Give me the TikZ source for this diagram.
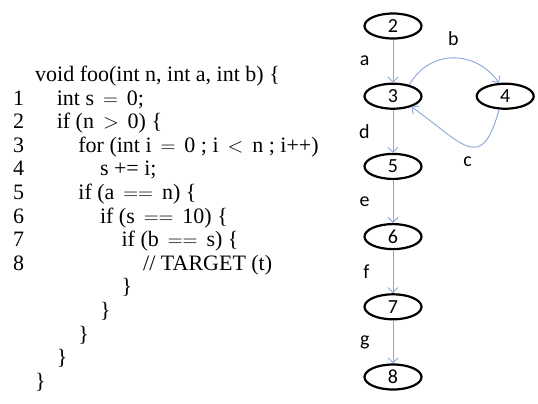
\documentclass[tikz,border=0pt]{standalone}
\usepackage{fontspec}
\setmainfont{Liberation Serif}
\newfontfamily\graphfont{Carlito}
\usepackage{tikz}
\usetikzlibrary{arrows.meta,positioning,shapes.geometric}
\definecolor{EdgeBlue}{HTML}{8AA6D6}
\newcommand\rel[1]{$\,#1\,$}

\begin{document}
\begin{tikzpicture}[x=1bp,y=1bp,
        code/.style={anchor=base west,inner sep=0pt,
                     font=\fontsize{22bp}{24bp}\selectfont},
        lno/.style={code},
        state/.style={ellipse,draw,line width=2.2bp,minimum width=57bp,
                      minimum height=25bp,inner sep=0pt,
                      font=\graphfont\fontsize{20bp}{24bp}\selectfont},
        flow/.style={-{Straight Barb[length=5bp,width=10bp]},EdgeBlue,
                     line width=0.9bp},
        elabel/.style={inner sep=0pt,text=black,
                       font=\graphfont\fontsize{20bp}{24bp}\selectfont},
        node distance=43bp]
        \useasboundingbox (0,0) rectangle (538,-403);
        % source listing
        \foreach \k in {1,...,8}
          \node[lno] (n\k) at (13,{-81.5-23.6*\k}) {\k};
        \node[code] (c0) at (35,-81.5) {void foo(int n, int a, int b) \{};
        \node[code] (c1) at (56.6,-105.1) {int s \rel{=} 0;};
        \node[code] (c2) at (56.6,-128.7) {if (n \rel{>} 0) \{};
        \node[code] (c3) at (78.2,-152.3) {for (int i \rel{=} 0 ; i \rel{<} n ; i++)};
        \node[code] (c4) at (99.8,-175.9) {s += i;};
        \node[code] (c5) at (78.2,-199.5) {if (a \rel{==} n) \{};
        \node[code] (c6) at (99.8,-223.1) {if (s \rel{==} 10) \{};
        \node[code] (c7) at (121.4,-246.7) {if (b \rel{==} s) \{};
        \node[code] (c8) at (143,-270.3) {// TARGET (t)};
        \node[code] (c9) at (121.4,-293.9) {\}};
        \node[code] (c10) at (99.8,-317.5) {\}};
        \node[code] (c11) at (78.2,-341.1) {\}};
        \node[code] (c12) at (56.6,-364.7) {\}};
        \node[code] (c13) at (35,-388.3) {\}};
        % control flow graph
        \node[state] (s2) at (393,-26) {2};
        \node[state,below=of s2] (s3) {3};
        \node[state,right=53bp of s3] (s4) {4};
        \node[state,below=of s3] (s5) {5};
        \node[state,below=of s5] (s6) {6};
        \node[state,below=of s6] (s7) {7};
        \node[state,below=of s7] (s8) {8};
        \draw[flow] (s2)--node[elabel,left=23bp] {a} (s3);
        \draw[flow] (s3.35) .. controls +(60:42) and +(125:40) ..
          node[elabel,above=12bp] {b} (s4.115);
        \draw[flow] (s4.-115) .. controls +(255:68) and +(-35:62) ..
          node[elabel,below=10bp] {c} (s3.-30);
        \draw[flow] (s3)--node[elabel,left=23bp] {d} (s5);
        \draw[flow] (s5)--node[elabel,left=23bp] {e} (s6);
        \draw[flow] (s6)--node[elabel,left=23bp] {f} (s7);
        \draw[flow] (s7)--node[elabel,left=23bp] {g} (s8);
\end{tikzpicture}
\end{document}
